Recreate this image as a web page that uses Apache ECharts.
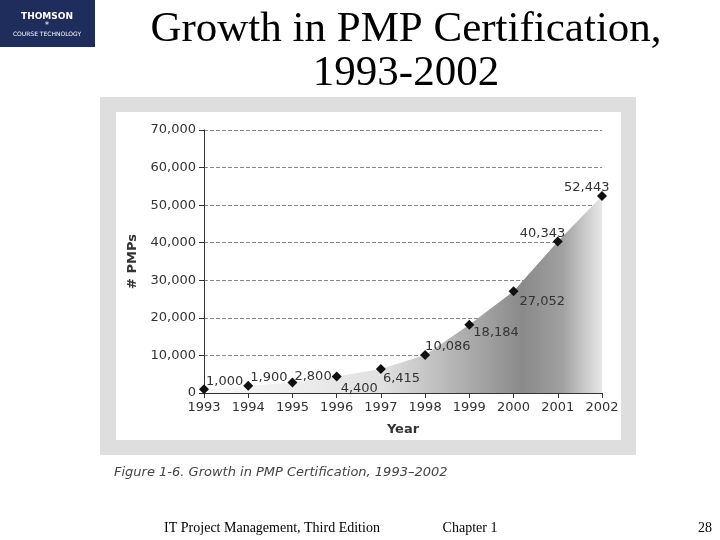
<!DOCTYPE html>
<html><head><meta charset="utf-8">
<script src="https://cdn.jsdelivr.net/npm/echarts@6/dist/echarts.min.js"></script>
<style>html,body{margin:0;padding:0;background:#fff}#c{width:720px;height:540px}</style>
</head><body><div id="c"></div>
<script>
const years = ['1993','1994','1995','1996','1997','1998','1999','2000','2001','2002'];
const pmps = [1000,1900,2800,4400,6415,10086,18184,27052,40343,52443];
const labelText = ['1,000','1,900','2,800','4,400','6,415','10,086','18,184','27,052','40,343','52,443'];
const labelPos = [[-8,-8],[-8,-8],[-8,-6],[-6,12],[-8,10],[-10,-8],[-6,8],[-4,10],[-48,-8],[-48,-8]];

const chart = echarts.init(document.getElementById('c'));
const lf = {fontFamily:'DejaVu Sans', fontSize:13, color:'#333'};
chart.setOption({
  animation:false,
  graphic:[
    {type:'rect',shape:{x:100,y:97,width:536,height:358},style:{fill:'#dedede'},z:-10},
    {type:'rect',shape:{x:116,y:112,width:505,height:328},style:{fill:'#fff'},z:-9},
    {type:'rect',shape:{x:0,y:0,width:95,height:47},style:{fill:'#1f2d5c'}},
    {type:'text',x:47,y:12,style:{text:'THOMSON',fill:'#fff',font:'bold 9px DejaVu Sans',textAlign:'center'}},
    {type:'text',x:47,y:22,style:{text:'*',fill:'#fff',font:'8px DejaVu Sans',textAlign:'center'}},
    {type:'text',x:47,y:31,style:{text:'COURSE TECHNOLOGY',fill:'#fff',font:'6px DejaVu Sans',textAlign:'center'}},
    {type:'text',x:406,y:8,style:{text:'Growth in PMP Certification,\n1993-2002',fill:'#000',font:'43px Liberation Serif',textAlign:'center',lineHeight:44}},
    {type:'text',x:114,y:466,style:{text:'Figure 1-6. Growth in PMP Certification, 1993–2002',fill:'#444',font:'italic 13px DejaVu Sans'}},
    {type:'text',x:272,y:521,style:{text:'IT Project Management, Third Edition',fill:'#000',font:'14px Liberation Serif',textAlign:'center'}},
    {type:'text',x:470,y:521,style:{text:'Chapter 1',fill:'#000',font:'14px Liberation Serif',textAlign:'center'}},
    {type:'text',x:712,y:521,style:{text:'28',fill:'#000',font:'14px Liberation Serif',textAlign:'right'}}
  ],
  grid:{left:204,right:118,top:130,bottom:147},
  xAxis:{type:'category',data:years,boundaryGap:false,name:'Year',nameLocation:'middle',nameGap:30,
    nameTextStyle:{fontFamily:'DejaVu Sans',fontSize:13,fontWeight:'bold',color:'#333'},
    axisLine:{lineStyle:{color:'#333'}},axisTick:{show:true,lineStyle:{color:'#333'}},
    axisLabel:{...lf}},
  yAxis:{type:'value',min:0,max:70000,interval:10000,name:'# PMPs',nameLocation:'middle',nameGap:62,
    nameTextStyle:{fontFamily:'DejaVu Sans',fontSize:13,fontWeight:'bold',color:'#333'},
    axisLine:{show:true,lineStyle:{color:'#333'}},axisTick:{show:true,lineStyle:{color:'#333'}},
    axisLabel:{...lf,formatter:v=>v.toLocaleString('en-US')},
    splitLine:{lineStyle:{type:'dashed',color:'#888'}}},
  series:[{type:'line',data:pmps.map((v,i)=>({value:v,label:{offset:labelPos[i]}})),
    symbol:'diamond',symbolSize:10,itemStyle:{color:'#111'},
    lineStyle:{width:0},
    areaStyle:{opacity:1,color:new echarts.graphic.LinearGradient(0,0,1,0,[
      {offset:0,color:'#fafafa'},{offset:0.45,color:'#e0e0e0'},{offset:0.8,color:'#8a8a8a'},{offset:0.9,color:'#a0a0a0'},{offset:1,color:'#e8e8e8'}])},
    label:{show:true,position:'right',...lf,formatter:p=>labelText[p.dataIndex]}}]
});
</script></body></html>
